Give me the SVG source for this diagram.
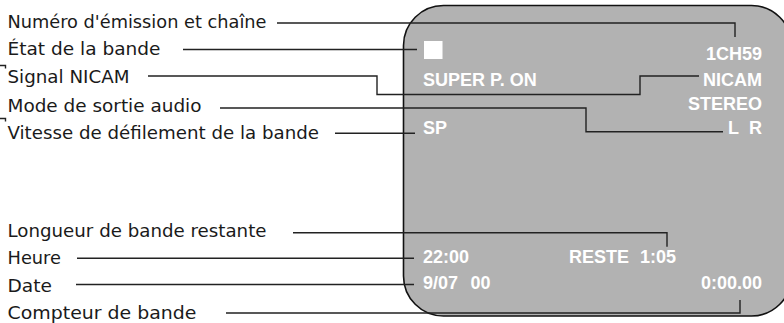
<svg xmlns="http://www.w3.org/2000/svg" width="784" height="323" viewBox="0 0 784 323">
<style>
.lbl{font-family:"DejaVu Sans","Liberation Sans",sans-serif;font-size:17px;fill:#1a1a1a}
.osd{font-family:"Liberation Sans",Arial,sans-serif;font-size:18px;font-weight:bold;fill:#ffffff}
.end{text-anchor:end}
.con{fill:none;stroke:#222;stroke-width:1.4}
</style>
<rect width="784" height="323" fill="#ffffff"/>
<g id="screen">
<rect x="403.5" y="5.5" width="388" height="310.5" rx="40" ry="40" fill="#b2b2b2" stroke="#111" stroke-width="1.6"/>
<rect x="424" y="41" width="18.5" height="18" fill="#ffffff"/>
<text class="osd end" x="762" y="60">1CH59</text>
<text class="osd" x="423" y="86">SUPER P. ON</text>
<text class="osd end" x="762" y="86">NICAM</text>
<text class="osd end" x="762" y="110">STEREO</text>
<text class="osd" x="423" y="134">SP</text>
<text class="osd" x="728" y="134">L</text>
<text class="osd end" x="762" y="134">R</text>
<text class="osd" x="423" y="263">22:00</text>
<text class="osd" x="569" y="263">RESTE</text>
<text class="osd end" x="676" y="263">1:05</text>
<text class="osd" x="423" y="289">9/07</text>
<text class="osd" x="470.5" y="289">00</text>
<text class="osd end" x="762" y="289">0:00.00</text>
</g>
<g id="labels">
<g id="n1"><text class="lbl" x="7.5" y="27.5" textLength="259" lengthAdjust="spacingAndGlyphs">Numéro d'émission et chaîne</text></g>
<g id="n2"><text class="lbl" x="7.5" y="55" textLength="153" lengthAdjust="spacingAndGlyphs">État de la bande</text></g>
<g id="n3"><text class="lbl" x="7.5" y="83" textLength="122" lengthAdjust="spacingAndGlyphs">Signal NICAM</text></g>
<g id="n4"><text class="lbl" x="7.5" y="111.5" textLength="194" lengthAdjust="spacingAndGlyphs">Mode de sortie audio</text></g>
<g id="n5"><text class="lbl" x="7.5" y="139" textLength="311.5" lengthAdjust="spacingAndGlyphs">Vitesse de défilement de la bande</text></g>
<g id="n6"><text class="lbl" x="7.5" y="236.5" textLength="259" lengthAdjust="spacingAndGlyphs">Longueur de bande restante</text></g>
<g id="n7"><text class="lbl" x="7.5" y="264" textLength="53.5" lengthAdjust="spacingAndGlyphs">Heure</text></g>
<g id="n8"><text class="lbl" x="7.5" y="291.5" textLength="44.5" lengthAdjust="spacingAndGlyphs">Date</text></g>
<g id="n9"><text class="lbl" x="7.5" y="319" textLength="189" lengthAdjust="spacingAndGlyphs">Compteur de bande</text></g>
</g>
<g id="connectors" class="con">
<path d="M277,23 H735 V37"/>
<path d="M183,49.5 H417"/>
<path d="M148,76 H377 V94.5 H640 V76 H699"/>
<path d="M220,108 H586 V131.7 H723"/>
<path d="M335,133.3 H415"/>
<path d="M293,232.7 H667 V246.7"/>
<path d="M77,258.3 H414"/>
<path d="M76,284.5 H414"/>
<path d="M226,313 H740 V300"/>
<path d="M0,65.5 H5.5 V68.5"/>
<path d="M0,118.5 H5.5 V121.5"/>
</g>
</svg>
